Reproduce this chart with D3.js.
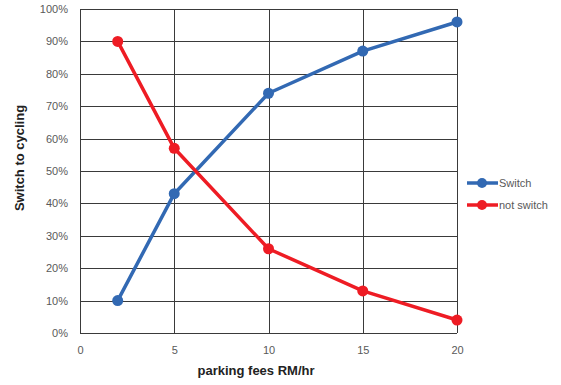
<!DOCTYPE html>
<html>
<head>
<meta charset="utf-8">
<script src="https://cdn.jsdelivr.net/npm/d3@7"></script>
<style>
  html, body { margin: 0; padding: 0; background: #fff; }
  svg { display: block; }
  text { font-family: "Liberation Sans Narrow", "Liberation Sans", "DejaVu Sans", sans-serif; }
</style>
</head>
<body>
<svg id="chart" width="561" height="385"></svg>
<script>
// Parking fee levels (RM/hr) and share of respondents per response
const fees = [2, 5, 10, 15, 20];
const switchShare = [0.10, 0.43, 0.74, 0.87, 0.96];
const notSwitchShare = [0.90, 0.57, 0.26, 0.13, 0.04];
const xTicks = [0, 5, 10, 15, 20];
const yTicks = [0, 0.1, 0.2, 0.3, 0.4, 0.5, 0.6, 0.7, 0.8, 0.9, 1.0];
const seriesNames = ["Switch", "not switch"];
const seriesColors = ["#3269b3", "#ee1c24"];

const svg = d3.select("#chart");
const margin = { left: 80, right: 104, top: 9, bottom: 52 };
const W = 561, H = 385;

const x = d3.scaleLinear().domain([0, 20]).range([margin.left, W - margin.right]);
const y = d3.scaleLinear().domain([0, 1]).range([H - margin.bottom, margin.top]);

// Gridlines
const grid = svg.append("g").attr("stroke", "#3a3a3a").attr("stroke-width", 1.2).attr("shape-rendering", "crispEdges");
grid.selectAll("line.h").data(yTicks).join("line")
  .attr("x1", x(0)).attr("x2", x(20))
  .attr("y1", d => Math.round(y(d)) + 0.5).attr("y2", d => Math.round(y(d)) + 0.5);
grid.selectAll("line.v").data(xTicks).join("line")
  .attr("y1", y(0)).attr("y2", y(1))
  .attr("x1", d => Math.round(x(d)) + 0.5).attr("x2", d => Math.round(x(d)) + 0.5);

// Axes (labels only)
const yAxis = svg.append("g").attr("transform", `translate(${x(0)},0)`)
  .call(d3.axisLeft(y).tickValues(yTicks).tickFormat(d3.format(".0%")).tickSize(0).tickPadding(12));
const xAxis = svg.append("g").attr("transform", `translate(0,${y(0)})`)
  .call(d3.axisBottom(x).tickValues(xTicks).tickSize(0).tickPadding(13));
[yAxis, xAxis].forEach(a => {
  a.select(".domain").remove();
  a.selectAll("text").attr("fill", "#595959").style("font-size", "11px");
});

// Axis titles
svg.append("text")
  .attr("x", 256).attr("y", 375)
  .attr("text-anchor", "middle")
  .style("font-size", "13px").style("font-weight", "bold")
  .attr("fill", "#222")
  .text("parking fees RM/hr");
svg.append("text")
  .attr("transform", "translate(24,158) rotate(-90)")
  .attr("text-anchor", "middle")
  .style("font-size", "13px").style("font-weight", "bold")
  .attr("fill", "#222")
  .text("Switch to cycling");

// Series
const series = [switchShare, notSwitchShare];
const line = d3.line().x((d, i) => x(fees[i])).y(d => y(d));
series.forEach((vals, s) => {
  svg.append("path").datum(vals)
    .attr("d", line)
    .attr("fill", "none")
    .attr("stroke", seriesColors[s])
    .attr("stroke-width", 3.5)
    .attr("stroke-linejoin", "round");
  svg.append("g").selectAll("circle").data(vals).join("circle")
    .attr("cx", (d, i) => x(fees[i]))
    .attr("cy", d => y(d))
    .attr("r", 5.5)
    .attr("fill", seriesColors[s]);
});

// Legend
const legend = svg.append("g");
seriesNames.forEach((name, i) => {
  const ly = 183 + i * 22;
  legend.append("line")
    .attr("x1", 467).attr("x2", 498).attr("y1", ly).attr("y2", ly)
    .attr("stroke", seriesColors[i]).attr("stroke-width", 3.5);
  legend.append("circle").attr("cx", 482).attr("cy", ly).attr("r", 5).attr("fill", seriesColors[i]);
  legend.append("text")
    .attr("x", 499).attr("y", ly + 4)
    .style("font-size", "11px").attr("fill", "#595959")
    .text(name);
});
</script>
</body>
</html>
